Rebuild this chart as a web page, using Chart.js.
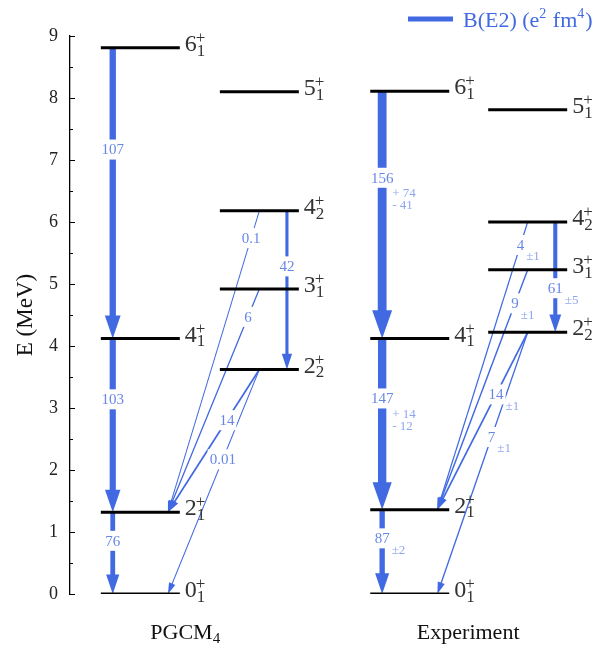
<!DOCTYPE html>
<html>
<head>
<meta charset="utf-8">
<script src="https://cdn.jsdelivr.net/npm/chart.js@4.4.1/dist/chart.umd.min.js"></script>
<style>
  html, body { margin: 0; padding: 0; background: #fff; }
</style>
</head>
<body>
<canvas id="scheme" width="611" height="651"></canvas>
<script>
// --- levels (same order in both spectra) ---
const levelSpin  = ['0', '2', '4', '6', '2', '3', '4', '5'];
const levelIndex = ['1', '1', '1', '1', '2', '1', '2', '1'];
const levelBand  = [0, 0, 0, 0, 1, 1, 1, 1];   // 0 = yrast column, 1 = second column
const pgcmEnergy = [0, 1.32, 4.12, 8.81, 3.62, 4.92, 6.18, 8.10];
const expEnergy  = [0, 1.36, 4.12, 8.11, 4.22, 5.23, 6.00, 7.81];

// --- E2 transitions (level index from -> to), B(E2) in e^2 fm^4 ---
const transFrom = [3, 2, 1, 6, 6, 5, 4, 4];
const transTo   = [2, 1, 0, 4, 1, 1, 1, 0];
const pgcmBE2   = [107, 103, 76, 42, 0.1, 6, 14, 0.01];
const expBE2    = [156, 147, 87, 61, 4, 9, 14, 7];
const expErrHi  = ['+ 74', '+ 14', '±2', '±5', '±1', '±1', '±1', '±1'];
const expErrLo  = ['- 41', '- 12', '', '', '', '', '', ''];

const spectrumNames = ['PGCM', 'Experiment'];

// === layout (x in axis units 0..10) ===
const colStart = [[0.57, 2.77], [5.55, 7.73]];
const levelLen = 1.46;
const inset = 0.22;
const nameX = [2.13, 7.36];
const pgcmLabelAt = [0.35, 0.35, 0.35, 0.35, 0.09, 0.125, 0.355, 0.40];
const expLabelAt  = [0.35, 0.35, 0.34, 0.60, 0.08, 0.14, 0.35, 0.40];

const FONT = 'Liberation Serif';
const BLUE = '#4169e1';
const LABEL_BLUE = 'rgba(65,105,225,0.8)';
const ERR_BLUE = 'rgba(65,105,225,0.6)';

const energies = [pgcmEnergy, expEnergy];
const values = [pgcmBE2, expBE2];
const labelAt = [pgcmLabelAt, expLabelAt];

const datasets = [];
energies.forEach((E, s) => {
    E.forEach((e, i) => {
        const x0 = colStart[s][levelBand[i]];
        datasets.push({
            data: [{ x: x0, y: e }, { x: x0 + levelLen, y: e }],
            showLine: true,
            borderColor: '#000',
            borderWidth: 3,
            borderCapStyle: 'butt',
            pointRadius: 0
        });
    });
});

function arrowGeom(chart, s, t) {
    const xs = chart.scales.x, ys = chart.scales.y;
    const f = transFrom[t], to = transTo[t];
    const E = energies[s];
    let xa, xb;
    if (levelBand[f] === 0 && levelBand[to] === 0) {
        xa = xb = colStart[s][0] + inset;
    } else if (levelBand[f] === 1 && levelBand[to] === 1) {
        xa = xb = colStart[s][1] + levelLen - inset;
    } else {
        xa = colStart[s][1] + levelLen / 2;
        xb = colStart[s][0] + levelLen - inset;
    }
    return {
        x1: xs.getPixelForValue(xa), y1: ys.getPixelForValue(E[f]),
        x2: xs.getPixelForValue(xb), y2: ys.getPixelForValue(E[to])
    };
}

function drawArrow(ctx, g, w) {
    const dx = g.x2 - g.x1, dy = g.y2 - g.y1;
    const len = Math.hypot(dx, dy);
    const ux = dx / len, uy = dy / len;
    const hl = 2.2 * w + 9, hw = 1.7 * w + 5;
    const bx = g.x2 - ux * hl, by = g.y2 - uy * hl;
    ctx.lineWidth = w;
    ctx.lineCap = 'butt';
    ctx.beginPath();
    ctx.moveTo(g.x1, g.y1);
    ctx.lineTo(g.x2 - ux * hl * 0.8, g.y2 - uy * hl * 0.8);
    ctx.stroke();
    ctx.beginPath();
    ctx.moveTo(g.x2, g.y2);
    ctx.lineTo(bx - uy * hw / 2, by + ux * hw / 2);
    ctx.lineTo(bx + uy * hw / 2, by - ux * hw / 2);
    ctx.closePath();
    ctx.fill();
}

// draws "2" with sub "1" and sup "+" style text
function drawSpin(ctx, x, y, main, sub, sup, big, small) {
    ctx.textAlign = 'left';
    ctx.textBaseline = 'alphabetic';
    ctx.font = big + 'px "' + FONT + '"';
    ctx.fillText(main, x, y);
    const mw = ctx.measureText(main).width;
    ctx.font = small + 'px "' + FONT + '"';
    if (sub) ctx.fillText(sub, x + mw, y + big * 0.2);
    if (sup) ctx.fillText(sup, x + mw - 1, y - big * 0.33);
}

const schemePlugin = {
    id: 'scheme',
    beforeDatasetsDraw(chart) {
        const ctx = chart.ctx;
        ctx.save();
        ctx.strokeStyle = BLUE;
        ctx.fillStyle = BLUE;
        values.forEach((vals, s) => {
            vals.forEach((b, t) => {
                drawArrow(ctx, arrowGeom(chart, s, t), b / 20 + 1);
            });
        });
        ctx.restore();
    },
    afterDatasetsDraw(chart) {
        const ctx = chart.ctx;
        const xs = chart.scales.x, ys = chart.scales.y;
        const area = chart.chartArea;
        ctx.save();

        // inward ticks on the energy axis
        ctx.strokeStyle = '#000';
        ctx.lineWidth = 1;
        for (let v = 0; v <= 9; v += 0.5) {
            const py = Math.round(ys.getPixelForValue(v)) + 0.5;
            ctx.beginPath();
            ctx.moveTo(area.left, py);
            ctx.lineTo(area.left + (v % 1 === 0 ? 5 : 3), py);
            ctx.stroke();
        }

        // B(E2) values
        values.forEach((vals, s) => {
            vals.forEach((b, t) => {
                const g = arrowGeom(chart, s, t);
                const k = labelAt[s][t];
                const cx = g.x1 + (g.x2 - g.x1) * k;
                const cy = g.y1 + (g.y2 - g.y1) * k;
                const txt = String(b);
                ctx.font = '15px "' + FONT + '"';
                const tw = ctx.measureText(txt).width;
                ctx.fillStyle = '#fff';
                ctx.fillRect(cx - tw / 2 - 2, cy - 10, tw + 4, 20);
                ctx.fillStyle = LABEL_BLUE;
                ctx.textAlign = 'center';
                ctx.textBaseline = 'middle';
                ctx.fillText(txt, cx, cy + 1);
                if (s === 1) {
                    ctx.font = '13px "' + FONT + '"';
                    ctx.fillStyle = ERR_BLUE;
                    ctx.textAlign = 'left';
                    const ex = cx + Math.min(tw / 2, 8) + 2;
                    if (expErrLo[t]) {
                        ctx.fillText(expErrHi[t], ex, cy + 16);
                        ctx.fillText(expErrLo[t], ex, cy + 28);
                    } else {
                        ctx.fillText(expErrHi[t], ex, cy + 12);
                    }
                }
            });
        });

        // level labels
        ctx.fillStyle = '#333';
        energies.forEach((E, s) => {
            E.forEach((e, i) => {
                const px = xs.getPixelForValue(colStart[s][levelBand[i]] + levelLen) + 5;
                const py = ys.getPixelForValue(e);
                drawSpin(ctx, px, py + 3, levelSpin[i], levelIndex[i], '+', 24, 17);
            });
        });

        // spectrum names
        ctx.fillStyle = '#111';
        spectrumNames.forEach((name, s) => {
            const sub = s === 0 ? '4' : '';
            ctx.font = '22px "' + FONT + '"';
            let w = ctx.measureText(name).width;
            ctx.font = '15px "' + FONT + '"';
            w += sub ? ctx.measureText(sub).width : 0;
            const px = xs.getPixelForValue(nameX[s]) - w / 2;
            drawSpin(ctx, px, area.bottom + 45, name, sub, '', 22, 15);
        });

        // legend
        ctx.strokeStyle = BLUE;
        ctx.lineWidth = 5;
        ctx.beginPath();
        ctx.moveTo(408, 19);
        ctx.lineTo(453, 19);
        ctx.stroke();
        ctx.fillStyle = BLUE;
        ctx.textAlign = 'left';
        ctx.textBaseline = 'alphabetic';
        let lx = 463;
        const parts = [['B(E2) (e', 22, 0], ['2', 14, -9], [' fm', 22, 0], ['4', 14, -9], [')', 22, 0]];
        parts.forEach(p => {
            ctx.font = p[1] + 'px "' + FONT + '"';
            ctx.fillText(p[0], lx, 27 + p[2]);
            lx += ctx.measureText(p[0]).width + (p[1] < 22 ? 1 : 0);
        });

        ctx.restore();
    }
};

new Chart(document.getElementById('scheme'), {
    type: 'scatter',
    data: { datasets: datasets },
    options: {
        responsive: false,
        animation: false,
        devicePixelRatio: 1,
        layout: { padding: { top: 36, bottom: 57, left: 0, right: 0 } },
        plugins: { legend: { display: false }, tooltip: { enabled: false } },
        scales: {
            x: { type: 'linear', display: false, min: 0, max: 10 },
            y: {
                min: 0,
                max: 9,
                afterFit: scale => { scale.width = 70; },
                grid: { display: false, drawTicks: false },
                border: { display: true, color: '#000', width: 1.3 },
                ticks: { stepSize: 1, padding: 12, color: '#222', font: { family: FONT, size: 18 } },
                title: {
                    display: true,
                    text: 'E (MeV)',
                    color: '#111',
                    padding: { top: 12, bottom: 0 },
                    font: { family: FONT, size: 23 }
                }
            }
        }
    },
    plugins: [schemePlugin]
});
</script>
</body>
</html>
